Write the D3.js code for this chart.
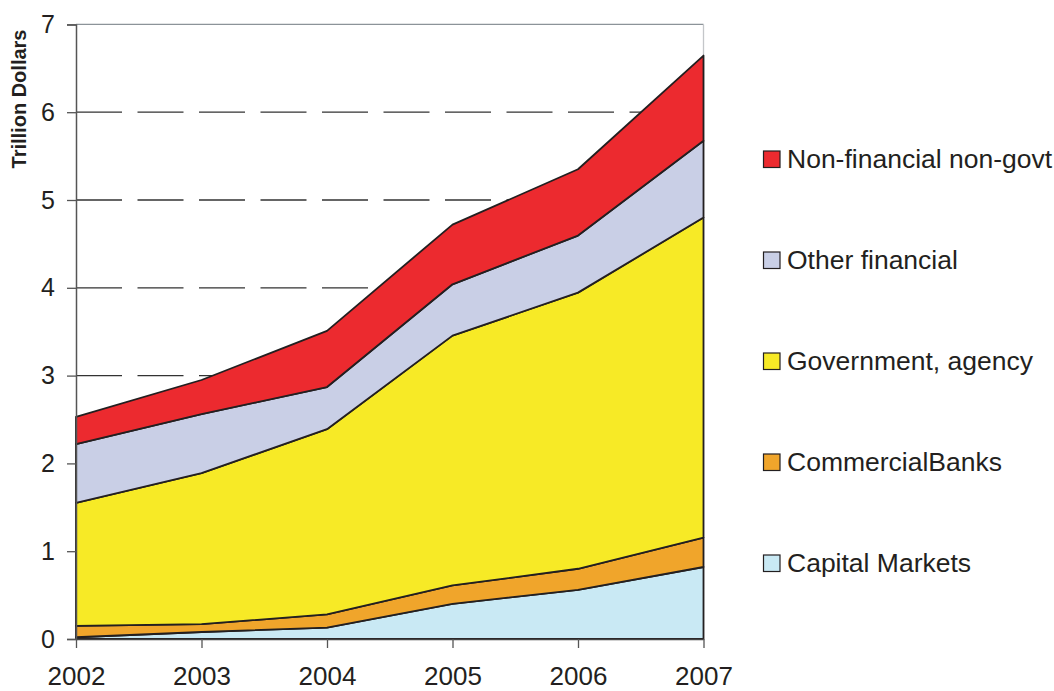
<!DOCTYPE html>
<html>
<head>
<meta charset="utf-8">
<script src="https://cdn.jsdelivr.net/npm/d3@7"></script>
<style>
  body { margin: 0; background: #fff; }
  svg { display: block; font-family: 'Liberation Sans', Arial, sans-serif; }
</style>
</head>
<body>
<div id="chart"></div>
<script>
const years = [2002, 2003, 2004, 2005, 2006, 2007]
const capitalMarkets = [0.02, 0.08, 0.13, 0.40, 0.56, 0.82]
const commercialBanks = [0.13, 0.09, 0.15, 0.21, 0.24, 0.335]
const government = [1.40, 1.72, 2.11, 2.845, 3.145, 3.645]
const otherFinancial = [0.67, 0.67, 0.48, 0.585, 0.65, 0.875]
const nonFinancial = [0.31, 0.39, 0.64, 0.68, 0.755, 0.97]
const yTicks = [0, 1, 2, 3, 4, 5, 6, 7]

// bottom to top
const series = [
  { key: 'cap', name: 'Capital Markets', values: capitalMarkets, color: '#c9e9f4' },
  { key: 'com', name: 'CommercialBanks', values: commercialBanks, color: '#f0a52b' },
  { key: 'gov', name: 'Government, agency', values: government, color: '#f7ea26' },
  { key: 'oth', name: 'Other financial', values: otherFinancial, color: '#c9cfe6' },
  { key: 'non', name: 'Non-financial non-govt', values: nonFinancial, color: '#ec2a2f' }
]

const width = 1054
const height = 691
const plot = { left: 76, right: 703.5, top: 24.4, bottom: 639 }

const rows = years.map((yr, i) => {
  const r = { year: yr }
  series.forEach(s => { r[s.key] = s.values[i] })
  return r
})

const x = d3.scalePoint().domain(years).range([plot.left, plot.right])
const y = d3.scaleLinear().domain([0, 7]).range([plot.bottom, plot.top])

const stacked = d3.stack().keys(series.map(s => s.key))(rows)

const svg = d3.select('#chart').append('svg')
  .attr('width', width)
  .attr('height', height)

// dashed gridlines (behind areas)
svg.append('g')
  .selectAll('line')
  .data(yTicks.filter(t => t > 0 && t < 7))
  .enter().append('line')
  .attr('x1', plot.left)
  .attr('x2', plot.right)
  .attr('y1', d => y(d))
  .attr('y2', d => y(d))
  .attr('stroke', '#333')
  .attr('stroke-width', 1.3)
  .attr('stroke-dasharray', '46,15.5')

// plot border top/right
svg.append('line')
  .attr('x1', plot.left).attr('x2', plot.right)
  .attr('y1', y(7)).attr('y2', y(7))
  .attr('stroke', '#8c9399').attr('stroke-width', 1.3)
svg.append('line')
  .attr('x1', plot.right).attr('x2', plot.right)
  .attr('y1', y(7)).attr('y2', plot.bottom)
  .attr('stroke', '#c4c6c9').attr('stroke-width', 1.3)

const area = d3.area()
  .x(d => x(d.data.year))
  .y0(d => y(d[0]))
  .y1(d => y(d[1]))

svg.append('g')
  .selectAll('path')
  .data(stacked)
  .enter().append('path')
  .attr('d', area)
  .attr('fill', (d, i) => series[i].color)
  .attr('stroke', '#231f20')
  .attr('stroke-width', 1.8)
  .attr('stroke-linejoin', 'round')

// y axis
const axisY = d3.axisLeft(y)
  .tickValues(yTicks)
  .tickFormat(d3.format('d'))
  .tickSize(9)
  .tickPadding(12)
svg.append('g')
  .attr('transform', 'translate(' + plot.left + ',0)')
  .call(axisY)
  .call(g => g.select('.domain').attr('stroke', '#555').attr('stroke-width', 1.5))
  .call(g => g.selectAll('.tick line').attr('stroke', '#555').attr('stroke-width', 1.3))
  .call(g => g.selectAll('.tick text')
    .attr('font-size', 25)
    .attr('font-family', "'Liberation Sans', Arial, sans-serif")
    .attr('fill', '#231f20'))

// x axis
const axisX = d3.axisBottom(x)
  .tickFormat(d3.format('d'))
  .tickSize(9)
  .tickSizeOuter(0)
  .tickPadding(19)
svg.append('g')
  .attr('transform', 'translate(0,' + plot.bottom + ')')
  .call(axisX)
  .call(g => g.select('.domain').attr('stroke', '#444').attr('stroke-width', 1.5))
  .call(g => g.selectAll('.tick line').attr('stroke', '#555').attr('stroke-width', 1.3))
  .call(g => g.selectAll('.tick text')
    .attr('font-size', 26)
    .attr('font-family', "'Liberation Sans', Arial, sans-serif")
    .attr('fill', '#231f20'))

// y title
svg.append('text')
  .attr('transform', 'translate(26,99) rotate(-90)')
  .attr('text-anchor', 'middle')
  .attr('font-size', 20)
  .attr('font-weight', 'bold')
  .attr('fill', '#231f20')
  .text('Trillion Dollars')

// legend, top entry = top layer
const legendRows = series.slice().reverse()
const legend = svg.append('g')
  .selectAll('g')
  .data(legendRows)
  .enter().append('g')
  .attr('transform', (d, i) => 'translate(763,' + (159 + i * 101) + ')')

legend.append('rect')
  .attr('x', 0.5)
  .attr('y', -8)
  .attr('width', 16.5)
  .attr('height', 16.5)
  .attr('fill', d => d.color)
  .attr('stroke', '#231f20')
  .attr('stroke-width', 1.2)

legend.append('text')
  .attr('x', 24)
  .attr('y', 0)
  .attr('dy', '0.35em')
  .attr('font-size', 26.5)
  .attr('fill', '#231f20')
  .text(d => d.name)
</script>
</body>
</html>
